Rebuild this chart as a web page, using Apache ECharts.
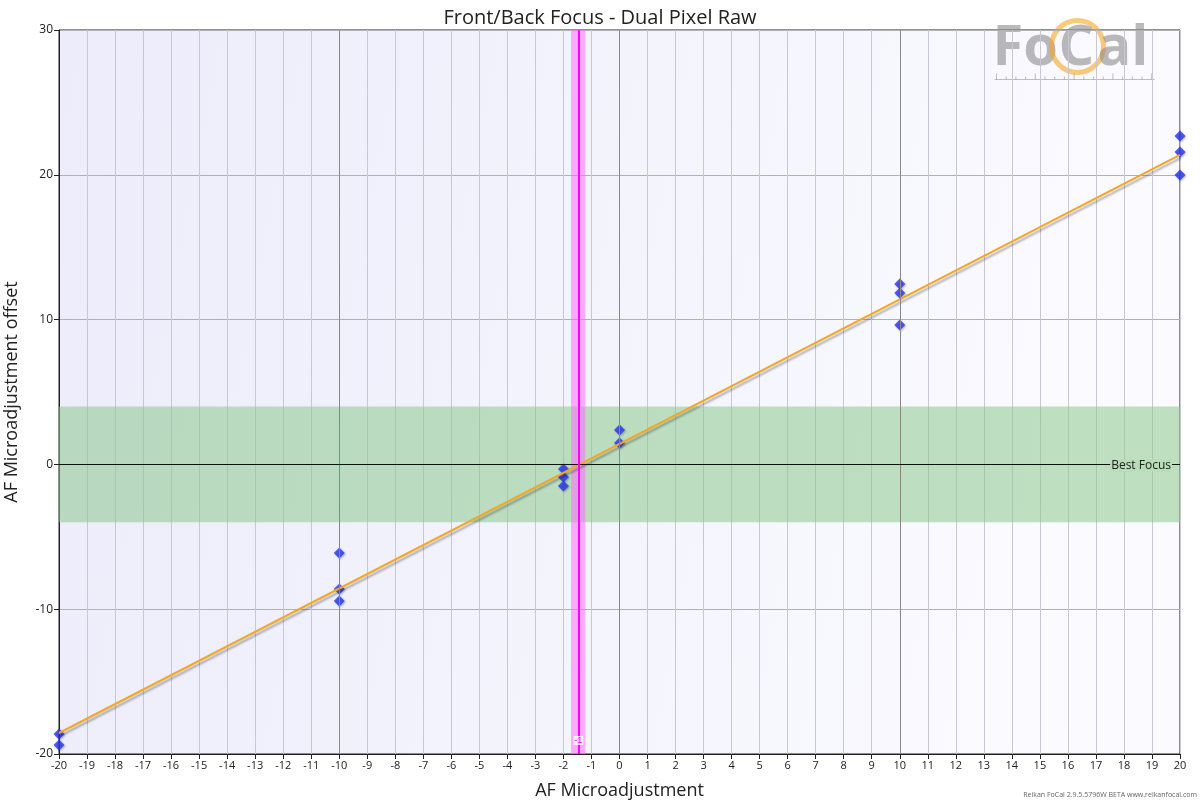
<!DOCTYPE html>
<html><head><meta charset="utf-8">
<script src="https://cdn.jsdelivr.net/npm/echarts@6/dist/echarts.min.js"></script>
<style>html,body{margin:0;padding:0;background:#fff}#c{width:1200px;height:800px}</style>
</head><body><div id="c"></div>
<script>
const xTicks = [-20,-19,-18,-17,-16,-15,-14,-13,-12,-11,-10,-9,-8,-7,-6,-5,-4,-3,-2,-1,0,1,2,3,4,5,6,7,8,9,10,11,12,13,14,15,16,17,18,19,20];
const yTicks = [30,20,10,0,-10,-20];
const pointX = [-20,-20,-10,-10,-10,-2,-2,-2,0,0,10,10,10,20,20,20];
const pointY = [-18.62,-19.38,-6.12,-8.6,-9.43,-0.32,-0.87,-1.49,2.38,1.48,12.46,11.84,9.63,22.68,21.57,19.99];
const fitX = [-20,20];
const fitY = [-18.55,21.37];
const bestFocusBand = [-4,4];
const bestAF = -1.47;
const bestAFBand = [-1.73,-1.22];
const majorX = [-10,0,10];

const rulerTicks = [];
for (let i = 0; i <= 16; i++) {
  rulerTicks.push({type:'line',shape:{x1:4+i*9.7,y1:58,x2:4+i*9.7,y2:(i%4===0)?52:55},style:{stroke:'rgba(130,130,130,0.5)',lineWidth:1}});
}

const chart = echarts.init(document.getElementById('c'));
chart.setOption({
  animation:false,
  title:{text:'Front/Back Focus - Dual Pixel Raw',left:'center',top:3,textStyle:{fontFamily:'Open Sans',fontSize:20,fontWeight:'normal',color:'#222'}},
  grid:{left:59,right:20,top:30,bottom:46,outerBoundsMode:'none',containLabel:false,show:true,borderColor:'#222',borderWidth:1,
    backgroundColor:new echarts.graphic.LinearGradient(0,0,1,0.3,[{offset:0,color:'#ececfb'},{offset:1,color:'#fbfbff'}])},
  xAxis:{type:'value',min:-20,max:20,interval:1,
    name:'AF Microadjustment',nameLocation:'middle',nameGap:28,nameTextStyle:{fontFamily:'Open Sans',fontSize:18,color:'#222'},
    axisLine:{show:true,onZero:false,lineStyle:{color:'#222'}},axisTick:{show:true,length:5,lineStyle:{color:'#222'}},
    axisLabel:{fontFamily:'Open Sans',fontSize:11,color:'#222',margin:6},
    splitLine:{show:true,lineStyle:{color:'#c8c8d2',width:1}}},
  yAxis:{type:'value',min:-20,max:30,interval:10,
    name:'AF Microadjustment offset',nameLocation:'middle',nameGap:38,nameTextStyle:{fontFamily:'Open Sans',fontSize:18,color:'#222'},
    axisLine:{show:true,onZero:false,lineStyle:{color:'#222'}},axisTick:{show:true,length:5,lineStyle:{color:'#222'}},
    axisLabel:{fontFamily:'Open Sans',fontSize:12,color:'#222',margin:6},
    splitLine:{show:true,lineStyle:{color:'#b0b0b8',width:1}}},
  series:[
    {type:'line',data:[],silent:true,
      markArea:{silent:true,itemStyle:{color:'rgba(140,200,140,0.55)'},data:[[{yAxis:bestFocusBand[0]},{yAxis:bestFocusBand[1]}]]},
      markLine:{silent:true,symbol:'none',label:{show:false},lineStyle:{color:'#888',type:'solid',width:1},
        data:majorX.map(v=>({xAxis:v}))}},
    {type:'line',data:[],silent:true,
      markLine:{silent:true,symbol:'none',data:[{yAxis:0,lineStyle:{color:'#111',width:1,type:'solid'},
        label:{show:true,position:'insideEndTop',formatter:'Best Focus',distance:[8,-7],fontFamily:'Open Sans',fontSize:12,color:'#222',backgroundColor:'rgba(185,220,185,1)',padding:[0,1]}}]}},
    {type:'line',data:[],silent:true,
      markArea:{silent:true,itemStyle:{color:'rgba(255,110,255,0.55)'},data:[[{xAxis:bestAFBand[0]},{xAxis:bestAFBand[1]}]]},
      markLine:{silent:true,symbol:'none',data:[{xAxis:bestAF,lineStyle:{color:'#ff00ff',width:2,type:'solid'},
        label:{show:true,position:'start',formatter:'-1',distance:-18,fontSize:9,color:'#f0f',backgroundColor:'rgba(255,255,255,0.8)',padding:[0,1]}}]}},
    {type:'line',data:fitX.map((x,i)=>[x,fitY[i]]),symbol:'none',silent:true,
      lineStyle:{color:'#f5a623',width:2,shadowColor:'rgba(0,0,0,0.3)',shadowBlur:2,shadowOffsetY:3,shadowOffsetX:1}},
    {type:'scatter',data:pointX.map((x,i)=>[x,pointY[i]]),symbol:'diamond',symbolSize:11,
      itemStyle:{color:'#2a36f0',shadowColor:'rgba(0,0,0,0.35)',shadowBlur:2,shadowOffsetX:1,shadowOffsetY:1}}
  ],
  graphic:[
    {type:'group',left:992,top:18,silent:true,children:[
      {type:'text',x:0,y:0,style:{text:'Fo',font:'bold 56px "Open Sans"',fill:'rgba(140,140,140,0.6)'}},
      {type:'circle',shape:{cx:85,cy:25,r:26},style:{fill:'none',stroke:'rgba(245,166,35,0.6)',lineWidth:5}},
      {type:'text',x:66,y:0,style:{text:'C',font:'bold 56px "Open Sans"',fill:'rgba(140,140,140,0.6)'}},
      {type:'text',x:105,y:0,style:{text:'al',font:'bold 56px "Open Sans"',fill:'rgba(140,140,140,0.6)'}},
      {type:'line',shape:{x1:2,y1:58,x2:162,y2:58},style:{stroke:'rgba(130,130,130,0.5)',lineWidth:1}}
    ].concat(rulerTicks)},
    {type:'text',right:3,bottom:2,style:{text:'Reikan FoCal 2.9.5.5796W BETA www.reikanfocal.com',font:'7px "Open Sans"',fill:'#666'}}
  ]
});
</script></body></html>
